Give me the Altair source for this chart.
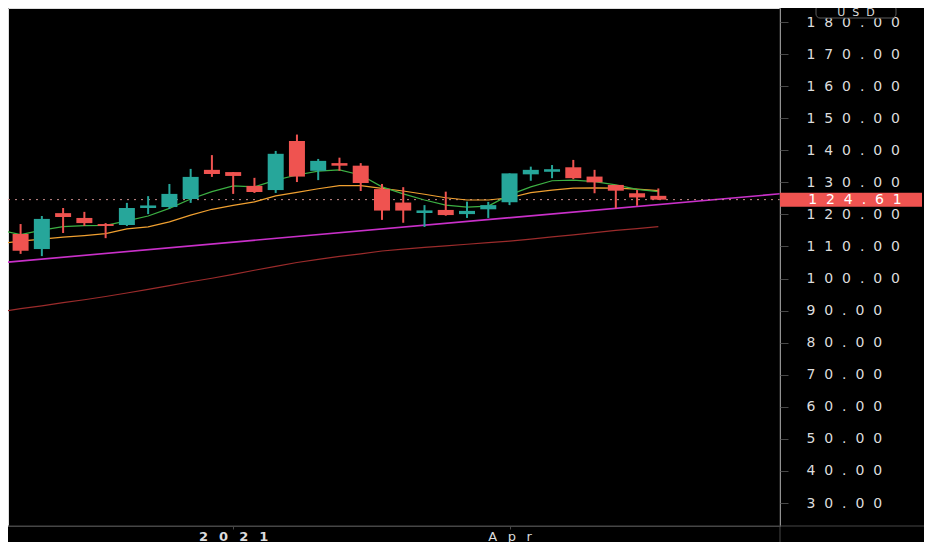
import altair as alt
import pandas as pd

# ---------------- data ----------------
dates = ["2020-10-26", "2020-11-02", "2020-11-09", "2020-11-16", "2020-11-23", "2020-11-30",
         "2020-12-07", "2020-12-14", "2020-12-21", "2020-12-28", "2021-01-04", "2021-01-11",
         "2021-01-18", "2021-01-25", "2021-02-01", "2021-02-08", "2021-02-15", "2021-02-22",
         "2021-03-01", "2021-03-08", "2021-03-15", "2021-03-22", "2021-03-29", "2021-04-05",
         "2021-04-12", "2021-04-19", "2021-04-26", "2021-05-03", "2021-05-10", "2021-05-17",
         "2021-05-24"]
opens = [113.9, 109.2, 120.4, 118.9, 117.0, 116.7, 122.0, 122.3, 124.8, 133.9, 133.2, 128.9,
         127.6, 142.9, 133.6, 136.0, 135.2, 127.9, 123.7, 120.45, 121.4, 120.1, 121.6, 123.8,
         132.5, 133.3, 134.7, 131.8, 129.2, 126.6, 125.8]
closes = [108.7, 118.6, 119.2, 117.3, 116.4, 122.0, 122.8, 126.4, 131.7, 132.6, 132.0, 127.0,
          138.9, 131.8, 136.7, 135.2, 129.8, 121.2, 121.2, 121.25, 119.8, 121.1, 122.9, 132.8,
          133.9, 134.1, 131.3, 130.0, 127.4, 125.3, 124.61]
highs = [117.0, 119.5, 122.0, 120.8, 117.3, 123.6, 125.7, 129.5, 134.2, 138.5, 133.2, 131.4,
         139.8, 144.9, 137.3, 137.7, 136.0, 129.5, 128.5, 122.9, 127.1, 124.0, 123.9, 132.8,
         134.9, 135.4, 137.0, 133.9, 129.2, 127.6, 128.1]
lows = [107.7, 107.0, 114.2, 116.4, 112.6, 116.4, 120.1, 121.7, 123.6, 131.7, 126.4, 126.7,
        126.7, 130.1, 130.7, 133.6, 127.3, 118.3, 117.4, 116.1, 119.6, 118.9, 118.9, 122.9,
        130.5, 131.3, 131.0, 126.6, 121.9, 122.7, 124.5]

line_dates = ["2020-10-19"] + dates
ema_fast = [115.1, 113.7, 115.1, 116.2, 116.5, 116.6, 118.0, 119.5, 121.9, 124.8, 127.1,
            128.9, 128.6, 130.7, 132.3, 133.5, 133.9, 132.3, 128.6, 126.4, 124.5, 122.9,
            122.3, 122.6, 126.1, 128.6, 130.5, 130.7, 130.2, 129.2, 127.8, 127.1]
ema_slow = [110.9, 111.7, 112.3, 112.9, 113.4, 114.0, 115.5, 116.1, 117.7, 119.8, 121.6,
            122.8, 123.9, 125.8, 126.9, 128.0, 129.0, 129.0, 128.1, 127.3, 126.3, 125.2,
            124.5, 124.5, 125.2, 126.8, 127.6, 128.2, 128.3, 128.2, 127.9, 127.4]
ma_long = [89.6, 90.6, 91.5, 92.5, 93.4, 94.4, 95.5, 96.6, 97.8, 99.0, 100.1, 101.3, 102.6,
           103.8, 105.0, 106.0, 106.9, 107.7, 108.6, 109.2, 109.7, 110.2, 110.7, 111.2,
           111.7, 112.3, 113.0, 113.6, 114.3, 115.0, 115.6, 116.2]

trend_dates = ["2020-10-19", "2021-07-05"]
trend_vals = [104.9, 126.6]

y_ticks = list(range(30, 190, 10))
x_tick_dates = [(2021, 1, 4), (2021, 4, 5)]
last_price = 124.61
currency = "USD"

# ---------------- styling ----------------
FONT = "DejaVu Sans"
SEP_Y = "\u00a0\u00a0"
SEP_X = "\u2002\u00a0"
GREEN = "#26a69a"
RED = "#ef5350"
FRAME = "#474747"
LABEL = "#dcdcdc"
W, H = 772, 518


def spaced(s, sep=SEP_Y):
    return sep.join(s)


candles = pd.DataFrame({"date": dates, "open": opens, "close": closes,
                        "high": highs, "low": lows})
candles["dir"] = ["up" if c >= o else "down" for o, c in zip(opens, closes)]
lines = pd.DataFrame({"date": line_dates, "fast": ema_fast, "slow": ema_slow, "long": ma_long})
trend = pd.DataFrame({"date": trend_dates, "value": trend_vals})
half = 7 / (H / (184.37 - 22.84))
pricebox = pd.DataFrame({"top": [last_price + half], "bot": [last_price - half],
                         "price": [last_price], "label": [spaced(f"{last_price:.2f}")]})
usd = pd.DataFrame({"label": [spaced(currency)]})

x_scale = alt.Scale(type="utc", nice=False, domain=[
    alt.DateTime(year=2020, month=10, date=23, hours=12, utc=True),
    alt.DateTime(year=2021, month=7, date=1, hours=10, utc=True)])
y_scale = alt.Scale(domain=[22.84, 184.37], nice=False, zero=False)

x_axis = alt.Axis(
    title=None, grid=False, domain=True, domainColor=FRAME, ticks=True, tickColor=FRAME,
    tickSize=3, labelPadding=1, labelColor=LABEL, labelFontSize=13, labelFont=FONT,
    values=[alt.DateTime(year=y, month=m, date=d, utc=True) for y, m, d in x_tick_dates],
    labelExpr=("replace(utcmonth(datum.value) == 0 ? utcFormat(datum.value, '%Y') : "
               "utcFormat(datum.value, '%b'), regexp('(.)(?!$)', 'g'), '$1" + SEP_X + "')"),
    labelFontWeight={"condition": {"test": "utcmonth(datum.value) == 0", "value": "bold"},
                     "value": "normal"},
)
y_axis = alt.Axis(
    title=None, orient="right", grid=False, domain=False, ticks=True, tickColor=FRAME,
    tickSize=8, labelPadding=18, labelAlign="left", labelColor=LABEL, labelFontSize=14,
    labelFont=FONT, values=y_ticks,
    labelExpr="replace(format(datum.value, '.2f'), regexp('(.)(?!$)', 'g'), '$1" + SEP_Y + "')",
)


def X(field="date"):
    return alt.X(f"{field}:T", scale=x_scale, axis=x_axis)


def Y(field):
    return alt.Y(f"{field}:Q", scale=y_scale, axis=y_axis)


long_line = alt.Chart(lines).mark_line(color="#9b2b2b", strokeWidth=1.2, clip=True).encode(
    x=X(), y=Y("long"))
trend_line = alt.Chart(trend).mark_line(color="#c930c9", strokeWidth=1.6, clip=True).encode(
    x=X(), y=Y("value"))
price_line = alt.Chart(pricebox).mark_rule(color="#c98b8b", strokeDash=[2, 5],
                                           strokeWidth=1).encode(y=Y("price"))
slow_line = alt.Chart(lines).mark_line(color="#f0a030", strokeWidth=1.2, clip=True).encode(
    x=X(), y=Y("slow"))
fast_line = alt.Chart(lines).mark_line(color="#3cb043", strokeWidth=1.2, clip=True).encode(
    x=X(), y=Y("fast"))

color = alt.Color("dir:N", scale=alt.Scale(domain=["up", "down"], range=[GREEN, RED]),
                  legend=None)
wicks = alt.Chart(candles).mark_rule(strokeWidth=2).encode(
    x=X(), y=Y("low"), y2="high", color=color)
bodies = alt.Chart(candles).mark_bar(size=16).encode(
    x=X(), y=Y("open"), y2="close", color=color)

bottom_rule = alt.Chart(usd).mark_rule(color=FRAME, strokeWidth=1).encode(
    x=alt.value(0), x2=alt.value(916), y=alt.value(H))
side_rule = alt.Chart(usd).mark_rule(color=FRAME, strokeWidth=1).encode(
    x=alt.value(W), y=alt.value(0), y2=alt.value(H + 16))

box = alt.Chart(pricebox).mark_rect(color=RED).encode(
    x=alt.value(W), x2=alt.value(914), y=Y("top"), y2="bot")
box_text = alt.Chart(pricebox).mark_text(
    color="#ffffff", font=FONT, fontSize=14, align="center", baseline="middle").encode(
    x=alt.value(847), y=Y("price"), text="label:N")

usd_box = alt.Chart(usd).mark_rect(fill="#000000", stroke="#5a5a5a", strokeWidth=1,
                                   cornerRadius=4).encode(
    x=alt.value(808), x2=alt.value(888), y=alt.value(-3), y2=alt.value(10))
usd_text = alt.Chart(usd).mark_text(
    color=LABEL, font=FONT, fontSize=11, align="center", baseline="alphabetic").encode(
    x=alt.value(848), y=alt.value(8), text="label:N")

chart = alt.layer(
    long_line, trend_line, price_line, slow_line, fast_line, wicks, bodies,
    bottom_rule, side_rule, box, box_text, usd_box, usd_text,
).properties(
    width=W, height=H,
    autosize=alt.AutoSizeParams(type="none"),
    padding={"left": 0, "top": 0, "right": 144, "bottom": 16},
    background="#000000",
).configure_view(strokeWidth=0).configure(font=FONT)

chart.save("out.html", embed_options={"renderer": "svg", "actions": False})
